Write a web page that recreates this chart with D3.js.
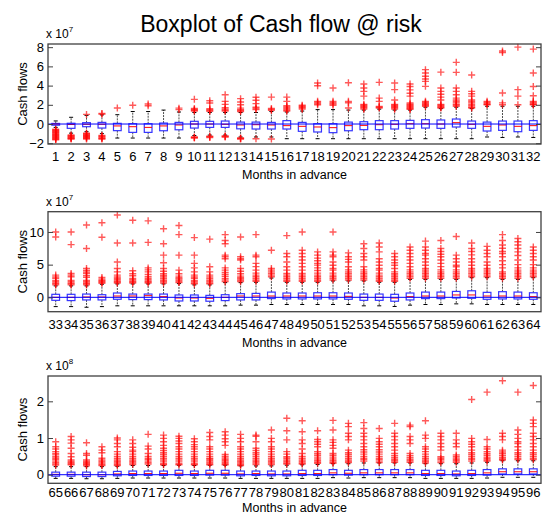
<!DOCTYPE html>
<html><head><meta charset="utf-8">
<script src="https://cdn.jsdelivr.net/npm/d3@7/dist/d3.min.js"></script>
<style>
body{margin:0;background:#fff}
text{font-family:"Liberation Sans",Arial,Helvetica,sans-serif;fill:#000}
</style>
</head><body>
<svg id="chart" width="549" height="515"></svg>
<script>
// ---------------- DATA ----------------
const titleText = "Boxplot of Cash flow @ risk";
const xLabel = "Months in advance";
const yLabel = "Cash flows";

// Panel 1: months 1-32, units 1e7
const p1Months = d3.range(1, 33).map(String);
const p1Q1  = [-0.12,-0.45,-0.28,-0.42,-0.69,-0.87,-0.87,-0.70,-0.60,-0.42,-0.35,-0.35,-0.50,-0.52,-0.52,-0.52,-0.76,-0.83,-0.90,-0.70,-0.59,-0.59,-0.52,-0.45,-0.42,-0.45,-0.31,-0.45,-0.73,-0.66,-0.80,-0.66];
const p1Med = [0.00,-0.05,-0.03,-0.03,-0.20,-0.28,-0.35,-0.20,-0.10,0.00,0.00,-0.03,-0.10,-0.07,-0.10,-0.17,-0.24,-0.31,-0.38,-0.17,-0.14,-0.07,-0.03,0.03,0.03,0.00,0.14,-0.03,-0.24,-0.10,-0.24,-0.17];
const p1Q3  = [0.06,0.08,0.14,0.17,0.07,0.03,0.03,0.10,0.17,0.28,0.28,0.31,0.20,0.20,0.17,0.35,0.17,0.03,0.03,0.20,0.24,0.35,0.35,0.38,0.45,0.42,0.52,0.31,0.20,0.31,0.31,0.35];
const p1WLo = [-0.35,-0.95,-0.80,-1.00,-1.46,-1.46,-1.46,-1.46,-1.46,-1.20,-1.15,-1.15,-1.35,-1.35,-1.35,-1.53,-1.53,-1.53,-1.53,-1.53,-1.53,-1.53,-1.53,-1.53,-1.53,-1.53,-1.53,-1.53,-1.35,-1.40,-1.35,-1.40];
const p1WHi = [0.32,0.70,0.90,0.95,0.97,1.30,1.30,1.45,1.25,1.20,1.20,1.20,1.20,1.20,1.30,1.25,1.35,1.50,1.50,1.45,1.45,1.55,1.45,1.45,1.75,1.60,1.75,1.60,1.85,1.85,1.85,1.85];
const p1Out = [
 [-0.55,-0.62,-0.70,-0.78,-0.85,-0.92,-1.00,-1.08,-1.15,-1.22,-1.30,-1.38,-1.45,-1.52,-1.60,-1.65],
 [-1.15,-1.22,-1.30,-1.38,-1.45,-1.52,-1.56],
 [1.00,-0.95,-1.02,-1.10,-1.18,-1.25,-1.32,-1.40,-1.48,-1.56],
 [1.10,1.03,-1.20,-1.28,-1.36,-1.44,-1.52,-1.56],
 [1.67],
 [1.95],
 [2.08,1.90],
 [],
 [1.65,1.50],
 [2.57,1.62,1.52,1.44,1.36,-1.35,-1.40,-1.45],
 [2.43,2.19,1.60,1.50,1.42,1.32,-1.28,-1.34,-1.40],
 [3.05,2.36,2.05,1.70,1.55,1.45,1.35,-1.25,-1.30,-1.36],
 [2.64,2.30,2.00,1.65,1.50,1.40,1.30,-1.45,-1.50,-1.56],
 [2.78,2.47,2.12,1.74,1.62,1.50,-1.53],
 [2.80,1.62,1.52,1.42,-1.56],
 [2.80,2.36,1.90,1.78,1.66,1.55,1.45,1.35],
 [1.95,1.85,1.75,1.65,1.55],
 [4.27,3.99,2.36,2.25,2.12,2.01],
 [3.75,2.36,2.22,2.08,1.95],
 [4.30,2.36,2.22,1.67],
 [4.17,3.75,3.40,2.90,2.05,1.95,1.85,1.75,1.65,1.55],
 [4.34,2.70,2.36,1.84,1.75,1.67],
 [4.27,3.58,2.50,2.05,1.95,1.85,1.75,1.65,1.55],
 [4.17,3.90,3.55,3.20,2.90,2.20,2.10,2.00,1.90,1.80,1.70,1.60,1.52],
 [5.66,5.31,4.97,4.69,4.44,3.92,2.36,2.25,2.15,2.05,1.95,1.85],
 [5.40,3.75,3.40,3.10,2.80,2.50,2.05,1.95,1.85,1.75,1.67],
 [6.42,5.38,3.75,3.40,3.05,2.70,2.50,2.35,2.20,2.05,1.95,1.84],
 [5.10,3.40,3.15,2.90,2.50,2.35,2.20,2.05,1.90,1.75,1.67],
 [2.36,2.25,2.15,2.05,2.00],
 [7.60,7.45,3.23,2.20,2.00],
 [8.00,3.58,2.90,2.00],
 [7.80,5.31,3.90,2.95,2.36,2.25,2.15,2.05,2.00]
];
const p1Ticks = [-2, 0, 2, 4, 6, 8];

// Panel 2: months 33-64, units 1e7
const p2Months = d3.range(33, 65).map(String);
const p2Q1  = [-0.46,-0.50,-0.40,-0.40,-0.30,-0.35,-0.35,-0.40,-0.56,-0.56,-0.60,-0.50,-0.40,-0.40,-0.20,-0.25,-0.25,-0.25,-0.25,-0.30,-0.46,-0.46,-0.60,-0.40,-0.20,-0.20,-0.10,-0.15,-0.30,-0.25,-0.25,-0.30];
const p2Med = [0.00,0.00,0.05,0.05,0.20,0.20,0.25,0.10,-0.10,-0.10,-0.15,0.00,0.20,0.20,0.20,0.20,0.20,0.20,0.20,0.15,0.00,0.00,-0.10,0.10,0.20,0.20,0.36,0.36,0.20,0.20,0.20,0.10];
const p2Q3  = [0.46,0.46,0.50,0.40,0.66,0.50,0.50,0.50,0.36,0.36,0.30,0.40,0.56,0.60,0.80,0.66,0.66,0.70,0.70,0.66,0.50,0.50,0.46,0.66,0.80,0.80,0.90,1.00,0.76,0.86,0.80,0.70];
const p2WLo = [-1.42,-1.42,-1.52,-1.42,-1.30,-1.30,-1.30,-1.30,-1.30,-1.30,-1.30,-1.30,-1.20,-1.20,-1.10,-1.10,-1.10,-1.10,-1.10,-1.10,-1.30,-1.30,-1.40,-1.20,-1.10,-1.10,-1.00,-1.00,-1.10,-1.10,-1.10,-1.10];
const p2WHi = [1.75,1.75,1.75,2.00,2.05,2.05,2.05,2.05,2.10,1.90,1.90,2.25,2.25,2.30,2.95,2.30,2.30,2.30,2.50,2.50,2.50,2.30,2.30,2.75,2.75,2.75,2.75,3.00,3.00,2.75,2.75,3.00];
const p2Out = [
 [10.0,9.24,3.4,3.1,2.9,2.6,2.4,2.2,2.05,1.9],
 [10.0,8.07,3.65,3.4,3.15,2.6,2.4,2.2,2.05,1.9],
 [11.07,7.46,4.4,4.1,3.85,3.65,3.3,3.05,2.6,2.4,2.2,2.05,1.9],
 [11.4,9.2,3.05,2.8,2.6,2.45,2.3,2.15],
 [12.6,8.3,5.4,4.4,3.9,3.4,3.1,2.9,2.7,2.5,2.35,2.2],
 [11.8,8.3,4.06,3.6,3.3,2.9,2.7,2.5,2.35,2.2],
 [11.7,8.4,4.5,4.2,3.9,3.5,3.15,2.9,2.7,2.5,2.35,2.2],
 [10.5,8.2,6.45,5.3,4.4,4.0,3.6,3.35,3.1,2.85,2.6,2.4,2.2],
 [11.0,9.6,6.45,4.16,3.6,3.25,3.0,2.8,2.6,2.4,2.25],
 [9.14,6.45,5.2,4.5,3.9,3.4,3.1,2.9,2.6,2.4,2.2,2.05],
 [8.9,4.67,3.9,3.4,3.1,2.85,2.6,2.4,2.2,2.05],
 [9.6,8.7,8.2,6.45,6.2,5.9,4.5,4.16,3.8,3.5,3.2,2.9,2.65,2.4],
 [9.24,6.2,5.9,5.7,4.4,4.0,3.6,3.25,3.0,2.8,2.6,2.4],
 [9.6,6.45,6.2,5.2,4.7,4.16,3.7,3.4,3.15,2.9,2.65,2.45],
 [7.2,4.4,4.16,3.9,3.65,3.4,3.15],
 [9.44,6.7,6.2,5.4,4.67,4.16,3.65,3.4,3.15,2.9,2.65,2.45],
 [10.0,7.2,6.7,6.2,5.7,5.2,4.67,4.16,3.65,3.4,3.15,2.9,2.65,2.45],
 [6.95,6.45,6.0,5.6,5.2,4.92,4.5,4.1,3.7,3.4,3.15,2.9,2.65,2.45],
 [10.0,6.95,6.45,6.2,5.4,4.9,4.4,4.16,3.7,3.4,3.15,2.9,2.65],
 [6.8,6.2,5.8,5.4,4.67,4.2,3.9,3.65,3.4,3.15,2.9,2.65],
 [8.2,7.46,6.7,6.2,5.7,4.67,4.2,3.9,3.65,3.4,3.15,2.9,2.65],
 [8.3,7.7,6.95,5.9,5.4,4.9,4.4,4.16,3.7,3.4,3.15,2.9,2.65,2.45],
 [6.7,6.2,5.7,5.3,4.9,4.4,3.9,3.6,3.4,3.15,2.9,2.65,2.45],
 [7.7,7.2,6.7,6.2,5.7,5.2,4.67,4.2,3.9,3.65,3.4,3.15,2.9],
 [8.6,7.7,7.2,6.7,6.45,5.9,5.4,4.9,4.4,4.16,3.9,3.65,3.4,3.15,2.9],
 [8.7,7.46,7.0,6.6,6.2,5.7,5.2,4.7,4.2,3.9,3.65,3.4,3.15,2.9],
 [9.3,6.45,5.9,5.4,4.9,4.67,4.2,3.9,3.65,3.4,3.15,2.9],
 [8.3,7.46,7.0,6.5,5.9,5.4,4.9,4.4,4.16,3.9,3.65,3.4,3.15],
 [7.8,7.2,6.7,6.2,5.4,4.9,4.4,4.16,3.9,3.65,3.4,3.15],
 [9.6,8.7,8.0,7.5,7.0,6.7,6.2,5.6,5.0,4.5,3.9,3.65,3.4,3.15,2.9],
 [9.0,8.5,8.0,7.46,6.95,6.4,5.7,5.0,4.5,4.16,3.9,3.65,3.4,3.15,2.9],
 [7.7,7.2,6.7,6.2,5.7,5.0,4.5,4.16,3.9,3.65,3.4,3.15]
];
const p2Ticks = [0, 5, 10];

// Panel 3: months 65-96, units 1e8
const p3Months = d3.range(65, 97).map(String);
const p3Q1  = [-0.04,-0.04,-0.05,-0.05,-0.03,-0.02,-0.02,-0.02,-0.02,-0.02,-0.01,-0.01,-0.03,-0.02,-0.03,-0.03,-0.02,-0.02,0.00,-0.01,0.00,0.00,0.00,0.00,-0.02,-0.02,-0.03,-0.02,-0.01,0.02,0.02,0.02];
const p3Med = [0.01,0.01,0.00,0.00,0.02,0.03,0.03,0.03,0.04,0.03,0.04,0.04,0.02,0.03,0.02,0.02,0.03,0.03,0.05,0.04,0.05,0.05,0.05,0.05,0.03,0.03,0.02,0.03,0.05,0.08,0.08,0.08];
const p3Q3  = [0.07,0.07,0.07,0.07,0.09,0.10,0.10,0.10,0.12,0.10,0.12,0.12,0.10,0.10,0.10,0.10,0.12,0.12,0.14,0.12,0.14,0.14,0.14,0.14,0.12,0.12,0.10,0.12,0.14,0.16,0.16,0.16];
const p3WLo = [-0.10,-0.10,-0.11,-0.11,-0.10,-0.09,-0.09,-0.09,-0.09,-0.09,-0.09,-0.09,-0.10,-0.10,-0.10,-0.10,-0.10,-0.10,-0.08,-0.09,-0.08,-0.08,-0.08,-0.08,-0.10,-0.10,-0.10,-0.10,-0.09,-0.07,-0.07,-0.07];
const p3WHi = [0.22,0.22,0.22,0.22,0.23,0.25,0.25,0.25,0.26,0.25,0.26,0.26,0.24,0.24,0.24,0.26,0.27,0.28,0.30,0.30,0.32,0.32,0.32,0.32,0.30,0.30,0.30,0.32,0.34,0.38,0.38,0.38];
const p3Out = [
 [0.90,0.76,0.70,0.63,0.58,0.54,0.49,0.45,0.41,0.37,0.33,0.29,0.26],
 [1.04,0.95,0.86,0.72,0.58,0.49,0.40,0.36,0.33,0.30,0.27],
 [0.87,0.58,0.53,0.40,0.36,0.33,0.30,0.27,0.24],
 [0.76,0.67,0.60,0.45,0.40,0.36,0.32,0.28,0.25],
 [1.00,0.95,0.85,0.76,0.63,0.56,0.50,0.45,0.40,0.36,0.32,0.28,0.25],
 [0.95,0.85,0.75,0.67,0.63,0.56,0.50,0.45,0.40,0.36,0.32,0.28],
 [1.10,0.78,0.70,0.58,0.50,0.45,0.41,0.37,0.33,0.29],
 [1.08,0.99,0.90,0.80,0.72,0.66,0.60,0.55,0.50,0.45,0.40,0.35,0.30,0.27],
 [1.05,0.99,0.92,0.85,0.76,0.70,0.63,0.56,0.50,0.45,0.40,0.35,0.30,0.27],
 [0.98,0.90,0.82,0.76,0.70,0.63,0.56,0.50,0.45,0.40,0.35,0.30,0.27],
 [1.15,1.04,0.95,0.76,0.70,0.63,0.56,0.50,0.45,0.42,0.38,0.34,0.30,0.27],
 [1.17,1.08,0.98,0.90,0.80,0.55,0.50,0.46,0.42,0.38,0.34,0.30,0.27],
 [1.10,0.99,0.90,0.76,0.70,0.63,0.56,0.50,0.45,0.40,0.36,0.32,0.28,0.25],
 [1.08,1.05,0.90,0.72,0.66,0.60,0.55,0.50,0.45,0.40,0.36,0.32,0.28],
 [1.22,0.99,0.90,0.76,0.70,0.63,0.56,0.50,0.45,0.40,0.36,0.32,0.28],
 [1.54,1.20,0.95,0.63,0.56,0.49,0.45,0.40,0.36,0.32,0.29],
 [1.47,1.17,0.95,0.85,0.70,0.58,0.50,0.45,0.40,0.36,0.32,0.29],
 [1.20,0.96,0.90,0.83,0.76,0.63,0.58,0.53,0.48,0.43,0.38,0.34,0.31],
 [1.48,1.22,0.95,0.88,0.80,0.72,0.58,0.53,0.48,0.43,0.38,0.34,0.31],
 [1.40,1.31,1.13,1.04,0.95,0.67,0.60,0.55,0.50,0.45,0.40,0.36,0.33],
 [1.42,1.26,1.13,1.04,0.95,0.85,0.76,0.68,0.62,0.56,0.50,0.45,0.41,0.37],
 [1.26,0.99,0.90,0.83,0.76,0.68,0.62,0.56,0.50,0.45,0.41,0.37,0.33],
 [1.40,1.13,1.04,0.95,0.85,0.76,0.67,0.58,0.52,0.47,0.42,0.38,0.34],
 [1.35,1.31,1.04,0.95,0.85,0.58,0.52,0.47,0.42,0.38,0.34],
 [1.47,1.08,0.99,0.76,0.70,0.63,0.56,0.50,0.45,0.40,0.36,0.32],
 [1.13,1.04,0.95,0.85,0.76,0.67,0.49,0.45,0.41,0.37,0.33],
 [1.13,0.95,0.85,0.76,0.54,0.50,0.46,0.42,0.38,0.34],
 [2.05,0.99,0.90,0.83,0.76,0.67,0.60,0.55,0.50,0.45,0.41,0.37],
 [2.25,0.96,0.76,0.70,0.63,0.58,0.53,0.48,0.44,0.40,0.37],
 [2.56,1.13,1.04,0.95,0.67,0.62,0.57,0.52,0.47,0.43,0.40],
 [2.25,1.22,1.10,0.99,0.90,0.85,0.76,0.67,0.60,0.55,0.50,0.45,0.41],
 [2.43,1.49,1.40,1.31,1.13,1.04,0.95,0.85,0.76,0.67,0.60,0.55,0.50,0.45,0.41]
];
const p3Ticks = [0, 1, 2];

// ---------------- DRAW ----------------
const svg = d3.select("#chart");
const left = 48, right = 541;

svg.append("text").attr("x", 281).attr("y", 31.5).attr("text-anchor", "middle")
  .style("font-size", "23px").text(titleText);

const panels = [
  {months: p1Months, q1: p1Q1, med: p1Med, q3: p1Q3, wlo: p1WLo, whi: p1WHi, out: p1Out, ticks: p1Ticks, exp: "7", domain: [-2.08, 8.33], top: 44, bottom: 144, pad: 8, xl: 179},
  {months: p2Months, q1: p2Q1, med: p2Med, q3: p2Q3, wlo: p2WLo, whi: p2WHi, out: p2Out, ticks: p2Ticks, exp: "7", domain: [-2.2, 13.1], top: 211.7, bottom: 311.7, pad: 8, xl: 346.5},
  {months: p3Months, q1: p3Q1, med: p3Med, q3: p3Q3, wlo: p3WLo, whi: p3WHi, out: p3Out, ticks: p3Ticks, exp: "8", domain: [-0.234, 2.69], top: 376, bottom: 483.3, pad: 4, xl: 512}
];

panels.forEach(p => {
  const x = d3.scaleBand().domain(p.months).range([left, right]).paddingInner(0).paddingOuter(0);
  const y = d3.scaleLinear().domain(p.domain).range([p.bottom, p.top]);
  const bw = x.bandwidth();
  const boxW = bw * 0.5, capW = bw * 0.26;
  const g = svg.append("g");

  p.months.forEach((m, i) => {
    const cx = x(m) + bw / 2;
    // whiskers
    g.append("line").attr("x1", cx).attr("x2", cx).attr("y1", y(p.q3[i])).attr("y2", y(p.whi[i]))
      .attr("stroke", "#000").attr("stroke-width", 1).attr("stroke-dasharray", "2,1").attr("stroke-opacity", 0.7);
    g.append("line").attr("x1", cx).attr("x2", cx).attr("y1", y(p.q1[i])).attr("y2", y(p.wlo[i]))
      .attr("stroke", "#000").attr("stroke-width", 1).attr("stroke-dasharray", "2,1").attr("stroke-opacity", 0.7);
    // caps
    [p.whi[i], p.wlo[i]].forEach(v => {
      g.append("line").attr("x1", cx - capW / 2).attr("x2", cx + capW / 2).attr("y1", y(v)).attr("y2", y(v))
        .attr("stroke", "#000").attr("stroke-width", 1);
    });
    // box
    g.append("rect").attr("x", cx - boxW / 2).attr("y", y(p.q3[i])).attr("width", boxW)
      .attr("height", Math.max(0.5, y(p.q1[i]) - y(p.q3[i])))
      .attr("fill", "none").attr("stroke", "#3535ff").attr("stroke-width", 1.2);
    // median
    g.append("line").attr("x1", cx - boxW / 2).attr("x2", cx + boxW / 2).attr("y1", y(p.med[i])).attr("y2", y(p.med[i]))
      .attr("stroke", "#ff0000").attr("stroke-width", 1);
    // outliers
    p.out[i].forEach(v => {
      const yy = y(v);
      g.append("path").attr("d", `M${cx - 3.5},${yy}H${cx + 3.5}M${cx},${yy - 3.5}V${yy + 3.5}`)
        .attr("stroke", "#ff0000").attr("stroke-width", 1.4).attr("stroke-opacity", 0.65).attr("fill", "none");
    });
  });

  // zero line
  g.append("line").attr("x1", left).attr("x2", right).attr("y1", y(0)).attr("y2", y(0))
    .attr("stroke", "#0000ff").attr("stroke-width", 1);

  // frame
  g.append("rect").attr("x", left).attr("y", p.top).attr("width", right - left).attr("height", p.bottom - p.top)
    .attr("fill", "none").attr("stroke", "#404040").attr("stroke-width", 1.3);

  // y axis left
  const ay = g.append("g").attr("transform", `translate(${left},0)`)
    .call(d3.axisLeft(y).tickValues(p.ticks).tickSizeInner(-5).tickSizeOuter(0).tickPadding(4).tickFormat(d3.format("d")));
  ay.select(".domain").remove();
  ay.selectAll("line").attr("stroke", "#404040");
  ay.selectAll("text").style("font-size", "13px").style("font-family", '"Liberation Sans",Arial,sans-serif').attr("fill", "#000");
  // y axis right (ticks only)
  const ar = g.append("g").attr("transform", `translate(${right},0)`)
    .call(d3.axisRight(y).tickValues(p.ticks).tickSizeInner(-5).tickSizeOuter(0).tickFormat(""));
  ar.select(".domain").remove();
  ar.selectAll("line").attr("stroke", "#404040");

  // x axis labels
  const ax = g.append("g").attr("transform", `translate(0,${p.bottom})`)
    .call(d3.axisBottom(x).tickSize(0).tickPadding(p.pad));
  ax.select(".domain").remove();
  ax.selectAll("text").style("font-size", "13px").style("font-family", '"Liberation Sans",Arial,sans-serif').attr("fill", "#000");

  // axis titles
  g.append("text").attr("x", (left + right) / 2).attr("y", p.xl).attr("text-anchor", "middle")
    .style("font-size", "12.5px").text(xLabel);
  g.append("text").attr("transform", `translate(27,${(p.top + p.bottom) / 2}) rotate(-90)`)
    .attr("text-anchor", "middle").style("font-size", "13px").text(yLabel);

  // exponent
  const ex = g.append("text").attr("x", 46).attr("y", p.top - 6).style("font-size", "12px");
  ex.append("tspan").text("x 10");
  ex.append("tspan").attr("dy", -6).style("font-size", "8px").text(p.exp);
});
</script>
</body></html>
